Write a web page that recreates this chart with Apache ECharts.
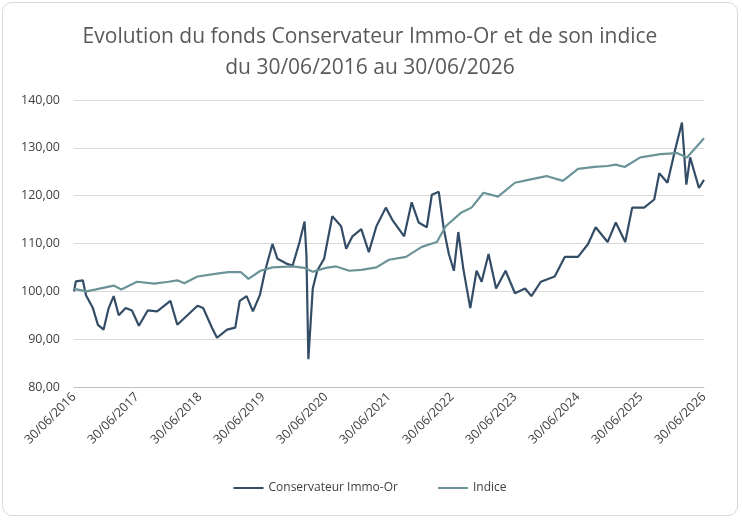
<!DOCTYPE html>
<html>
<head>
<meta charset="utf-8">
<script src="https://cdn.jsdelivr.net/npm/echarts@6/dist/echarts.min.js"></script>
<style>
  html, body { margin: 0; padding: 0; background: #fff; }
  #main { position: absolute; left: 2px; top: 2px; width: 736px; height: 514px; border: 1px solid #d9d9d9; border-radius: 10px; box-sizing: border-box; }
</style>
</head>
<body>
<div id="main"></div>
<script>
// années décimales (30/06/2016 = 2016.5)
const fundYears = [2016.5, 2016.53, 2016.64, 2016.69, 2016.8, 2016.88, 2016.97, 2017.05, 2017.13, 2017.21, 2017.32, 2017.42, 2017.53, 2017.67, 2017.82, 2018.03, 2018.14, 2018.3, 2018.46, 2018.55, 2018.69, 2018.77, 2018.93, 2019.06, 2019.13, 2019.24, 2019.34, 2019.45, 2019.53, 2019.65, 2019.73, 2019.87, 2019.97, 2020.08, 2020.16, 2020.19, 2020.22, 2020.29, 2020.36, 2020.47, 2020.6, 2020.74, 2020.82, 2020.92, 2021.06, 2021.18, 2021.3, 2021.45, 2021.55, 2021.74, 2021.86, 2021.97, 2022.1, 2022.18, 2022.29, 2022.37, 2022.45, 2022.53, 2022.6, 2022.68, 2022.79, 2022.89, 2022.97, 2023.08, 2023.2, 2023.35, 2023.5, 2023.66, 2023.76, 2023.91, 2024.13, 2024.29, 2024.5, 2024.66, 2024.78, 2024.97, 2025.1, 2025.25, 2025.36, 2025.55, 2025.71, 2025.79, 2025.92, 2026.04, 2026.15, 2026.22, 2026.28, 2026.42, 2026.5];
const fundValues = [100.0, 102.1, 102.3, 99.2, 96.5, 93.0, 92.0, 96.5, 99.0, 95.0, 96.5, 96.0, 92.8, 96.0, 95.8, 98.0, 93.0, 95.0, 97.0, 96.5, 92.4, 90.3, 92.0, 92.4, 98.0, 99.0, 95.8, 99.2, 104.1, 109.9, 106.8, 105.8, 105.4, 110.3, 114.6, 107.4, 85.8, 100.6, 104.3, 106.8, 115.7, 113.6, 108.9, 111.5, 113.0, 108.2, 113.6, 117.5, 115.0, 111.5, 118.6, 114.4, 113.4, 120.2, 120.8, 113.0, 107.8, 104.3, 112.4, 104.7, 96.5, 104.3, 102.0, 107.8, 100.6, 104.3, 99.6, 100.6, 99.0, 102.0, 103.1, 107.2, 107.2, 109.9, 113.4, 110.3, 114.4, 110.3, 117.5, 117.5, 119.2, 124.7, 122.7, 129.5, 135.3, 122.3, 128.0, 121.6, 123.3];
const indexYears = [2016.5, 2016.7, 2016.85, 2017.13, 2017.25, 2017.5, 2017.77, 2018.0, 2018.14, 2018.25, 2018.46, 2018.77, 2018.95, 2019.15, 2019.27, 2019.46, 2019.65, 2019.97, 2020.16, 2020.29, 2020.5, 2020.66, 2020.87, 2021.06, 2021.3, 2021.5, 2021.77, 2022.02, 2022.26, 2022.4, 2022.65, 2022.81, 2023.0, 2023.23, 2023.5, 2023.71, 2024.0, 2024.26, 2024.5, 2024.76, 2024.97, 2025.1, 2025.24, 2025.49, 2025.81, 2026.07, 2026.23, 2026.5];
const indexValues = [100.5, 100.0, 100.4, 101.2, 100.4, 102.0, 101.6, 102.0, 102.3, 101.7, 103.1, 103.7, 104.0, 104.0, 102.6, 104.3, 105.0, 105.2, 104.9, 104.1, 104.9, 105.2, 104.3, 104.5, 105.0, 106.6, 107.2, 109.3, 110.3, 113.6, 116.5, 117.5, 120.6, 119.8, 122.7, 123.3, 124.1, 123.1, 125.6, 126.0, 126.2, 126.5, 126.0, 128.0, 128.7, 128.9, 128.0, 132.0];

const zip = (xs, ys) => xs.map((x, i) => [x, ys[i]]);

const chart = echarts.init(document.getElementById('main'));
chart.setOption({
  animation: false,
  textStyle: { fontFamily: 'Open Sans, sans-serif' },
  title: {
    text: 'Evolution du fonds Conservateur Immo-Or et de son indice\ndu 30/06/2016 au 30/06/2026',
    left: 'center', top: 14,
    textStyle: { fontSize: 21, fontWeight: 'normal', color: '#595959', lineHeight: 31, fontFamily: 'Open Sans, sans-serif' }
  },
  legend: {
    bottom: 16, itemWidth: 30, itemHeight: 2, itemGap: 40,
    icon: 'rect',
    textStyle: { color: '#404040', fontSize: 12 },
    data: ['Conservateur Immo-Or', 'Indice']
  },
  grid: { left: 71, right: 33, top: 97, bottom: 128 },
  xAxis: {
    type: 'value', min: 2016.5, max: 2026.5, interval: 1,
    axisLine: { lineStyle: { color: '#bfbfbf' } },
    axisTick: { show: false },
    splitLine: { show: false },
    axisLabel: {
      rotate: 45, color: '#404040', fontSize: 12.5, margin: 8,
      formatter: v => '30/06/' + Math.floor(v)
    }
  },
  yAxis: {
    type: 'value', min: 80, max: 140, interval: 10,
    axisLine: { show: false }, axisTick: { show: false },
    splitLine: { lineStyle: { color: '#d9d9d9' } },
    axisLabel: { color: '#404040', fontSize: 12.5, margin: 14, formatter: v => v.toFixed(2).replace('.', ',') }
  },
  series: [
    { name: 'Conservateur Immo-Or', type: 'line', data: zip(fundYears, fundValues), showSymbol: false,
      lineStyle: { width: 2.2, color: '#344d66' }, itemStyle: { color: '#344d66' } },
    { name: 'Indice', type: 'line', data: zip(indexYears, indexValues), showSymbol: false,
      lineStyle: { width: 2.2, color: '#6b9398' }, itemStyle: { color: '#6b9398' } }
  ]
});
</script>
</body>
</html>
